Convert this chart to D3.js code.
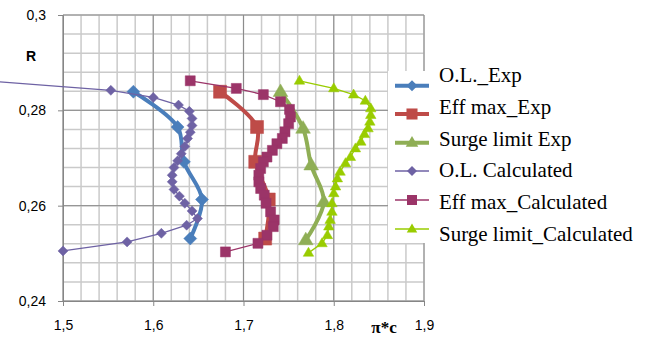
<!DOCTYPE html>
<html><head><meta charset="utf-8">
<script src="https://cdn.jsdelivr.net/npm/d3@7"></script>
<style>body{margin:0;background:#fff}svg{display:block}</style>
</head><body><svg id="c" width="652" height="339"></svg>
<script>
// ---- data ----
const xTicks = [1.5, 1.6, 1.7, 1.8, 1.9];
const xTickLabels = ["1,5", "1,6", "1,7", "1,8", "1,9"];
const yTicks = [0.24, 0.26, 0.28, 0.3];
const yTickLabels = ["0,24", "0,26", "0,28", "0,3"];
const seriesNames = ["O.L._Exp", "Eff max_Exp", "Surge limit Exp", "O.L. Calculated", "Eff max_Calculated", "Surge limit_Calculated"];

const olExpX = [1.578, 1.627, 1.634, 1.654, 1.641];
const olExpY = [0.2839, 0.2765, 0.2692, 0.2613, 0.2531];
const effExpX = [1.674, 1.715, 1.713, 1.728, 1.724];
const effExpY = [0.2839, 0.2765, 0.2692, 0.2613, 0.2531];
const surgeExpX = [1.741, 1.766, 1.775, 1.789, 1.769];
const surgeExpY = [0.2839, 0.2762, 0.2685, 0.2608, 0.2528];

const olCalcX = [1.42, 1.553, 1.600, 1.628, 1.640, 1.643, 1.643, 1.641, 1.638, 1.635, 1.631, 1.627, 1.623, 1.621, 1.621, 1.623, 1.629, 1.635, 1.643, 1.649, 1.637, 1.609, 1.571, 1.500];
const olCalcY = [0.2861, 0.2842, 0.2827, 0.2811, 0.2798, 0.2783, 0.2768, 0.2754, 0.2741, 0.2724, 0.2709, 0.2694, 0.2680, 0.2664, 0.2650, 0.2634, 0.2620, 0.2605, 0.2589, 0.2573, 0.2559, 0.2542, 0.2524, 0.2505];
const effCalcX = [1.641, 1.692, 1.722, 1.741, 1.751, 1.752, 1.750, 1.746, 1.743, 1.737, 1.732, 1.726, 1.722, 1.719, 1.717, 1.717, 1.719, 1.723, 1.725, 1.730, 1.734, 1.733, 1.726, 1.716, 1.680];
const effCalcY = [0.2862, 0.2846, 0.2833, 0.2818, 0.2802, 0.2786, 0.2772, 0.2755, 0.2741, 0.2730, 0.2716, 0.2702, 0.2692, 0.2678, 0.2664, 0.2650, 0.2636, 0.2622, 0.2605, 0.2587, 0.2570, 0.2556, 0.2538, 0.2521, 0.2503];
const surgeCalcX = [1.762, 1.800, 1.822, 1.835, 1.841, 1.841, 1.840, 1.838, 1.834, 1.830, 1.824, 1.8185, 1.813, 1.807, 1.804, 1.802, 1.800, 1.798, 1.798, 1.796, 1.7945, 1.793, 1.787, 1.772];
const surgeCalcY = [0.2862, 0.2846, 0.2833, 0.2820, 0.2804, 0.2790, 0.2776, 0.2762, 0.2750, 0.2734, 0.2720, 0.2702, 0.2689, 0.2671, 0.2657, 0.2640, 0.2626, 0.2605, 0.2587, 0.2570, 0.2556, 0.2538, 0.2521, 0.2501];

// ---- layout / style ----
const svg = d3.select("#c");
const x = d3.scaleLinear().domain([1.5, 1.9]).range([63, 424]);
const y = d3.scaleLinear().domain([0.24, 0.3]).range([301, 15]);

const styles = [
  {color: "#4A7EBB", w: 4, shape: "diamond", r: 6.5, smooth: true},
  {color: "#BE4B48", w: 4, shape: "square", r: 6.5, smooth: true},
  {color: "#8FAE55", w: 4, shape: "triangle", r: 7, smooth: true},
  {color: "#6E62A4", w: 1.3, shape: "diamond", r: 5, smooth: false},
  {color: "#9B3468", w: 1.3, shape: "square", r: 5, smooth: false},
  {color: "#99CC00", w: 1.3, shape: "triangle", r: 5, smooth: false}
];
const series = [
  d3.zip(olExpX, olExpY), d3.zip(effExpX, effExpY), d3.zip(surgeExpX, surgeExpY),
  d3.zip(olCalcX, olCalcY), d3.zip(effCalcX, effCalcY), d3.zip(surgeCalcX, surgeCalcY)
];

// minor grid
const minorX = d3.range(1.5, 1.9001, 0.02);
const minorY = d3.range(0.24, 0.3001, 0.004);
const g = svg.append("g");
g.selectAll(".mx").data(minorX).join("line")
  .attr("x1", d => x(d)).attr("x2", d => x(d)).attr("y1", y(0.24)).attr("y2", y(0.3))
  .attr("stroke", "#cacaca").attr("stroke-width", 1.5);
g.selectAll(".my").data(minorY).join("line")
  .attr("y1", d => y(d)).attr("y2", d => y(d)).attr("x1", x(1.5)).attr("x2", x(1.9))
  .attr("stroke", "#cacaca").attr("stroke-width", 1.5);
// major grid
g.selectAll(".Mx").data(xTicks).join("line")
  .attr("x1", d => x(d)).attr("x2", d => x(d)).attr("y1", y(0.24)).attr("y2", y(0.3))
  .attr("stroke", "#8c8c8c").attr("stroke-width", 1);
g.selectAll(".My").data(d3.range(0.24, 0.3001, 0.02)).join("line")
  .attr("y1", d => y(d)).attr("y2", d => y(d)).attr("x1", x(1.5)).attr("x2", x(1.9))
  .attr("stroke", "#8c8c8c").attr("stroke-width", 1);

// axes
const yAxis = d3.axisLeft(y).tickValues(yTicks).tickFormat((d, i) => yTickLabels[i]).tickSize(5).tickPadding(12);
const xAxis = d3.axisBottom(x).tickValues(xTicks).tickFormat((d, i) => xTickLabels[i]).tickSize(5).tickPadding(14);
const ya = svg.append("g").attr("transform", `translate(${x(1.5)},0)`).call(yAxis);
const xa = svg.append("g").attr("transform", `translate(0,${y(0.24)})`).call(xAxis);
[ya, xa].forEach(a => {
  a.select(".domain").attr("stroke", "#868686");
  a.selectAll(".tick line").attr("stroke", "#868686");
  a.selectAll("text").attr("font-family", "'Liberation Sans', Arial, sans-serif").attr("font-size", 14).attr("fill", "#000");
});
ya.selectAll(".tick").filter(d => d === 0.26).select("text").attr("dy", "0.32em");

// axis titles
svg.append("text").attr("x", 31).attr("y", 61).attr("text-anchor", "middle")
  .attr("font-family", "'Liberation Sans', Arial, sans-serif").attr("font-weight", "bold").attr("font-size", 14).text("R");
svg.append("text").attr("x", 384).attr("y", 333).attr("text-anchor", "middle")
  .attr("font-family", "'Liberation Serif', 'Times New Roman', serif").attr("font-weight", "bold").attr("font-size", 17).text("π*c");

function shapePath(shape, r) {
  if (shape === "diamond") return `M0,${-r}L${r},0L0,${r}L${-r},0Z`;
  if (shape === "square") return `M${-r},${-r}H${r}V${r}H${-r}Z`;
  const h = r * 1.8;
  return `M0,${-h * 0.62}L${r * 1.05},${h * 0.38}L${-r * 1.05},${h * 0.38}Z`;
}

// series
series.forEach((pts, i) => {
  const s = styles[i];
  const line = d3.line().x(d => x(d[0])).y(d => y(d[1]))
    .curve(s.smooth ? d3.curveCatmullRom.alpha(0.5) : d3.curveLinear);
  const sg = svg.append("g");
  sg.append("path").attr("d", line(pts)).attr("fill", "none")
    .attr("stroke", s.color).attr("stroke-width", s.w).attr("stroke-linejoin", "round").attr("stroke-linecap", "round");
  sg.selectAll("path.m").data(pts).join("path").attr("class", "m")
    .attr("transform", d => `translate(${x(d[0])},${y(d[1])})`)
    .attr("d", shapePath(s.shape, s.r)).attr("fill", s.color).attr("stroke", s.color).attr("stroke-width", 0.5);
});

// legend
const leg = svg.append("g");
leg.append("rect").attr("x", 388).attr("y", 71).attr("width", 264).attr("height", 172).attr("fill", "#fff");
const symY = [85.7, 114, 142.7, 171, 200, 229];
const txtY = [82, 114, 146, 177, 209, 241];
seriesNames.forEach((name, i) => {
  const s = styles[i];
  leg.append("line").attr("x1", 395).attr("x2", 429).attr("y1", symY[i]).attr("y2", symY[i])
    .attr("stroke", s.color).attr("stroke-width", i < 3 ? 4 : 1.5);
  leg.append("path").attr("transform", `translate(412,${symY[i]})`)
    .attr("d", shapePath(s.shape, i < 3 ? s.r * 0.85 : s.r)).attr("fill", s.color);
  leg.append("text").attr("x", 439).attr("y", txtY[i])
    .attr("font-family", "'Liberation Serif', 'Times New Roman', serif").attr("font-size", 21).attr("fill", "#000")
    .text(name);
});
</script></body></html>
